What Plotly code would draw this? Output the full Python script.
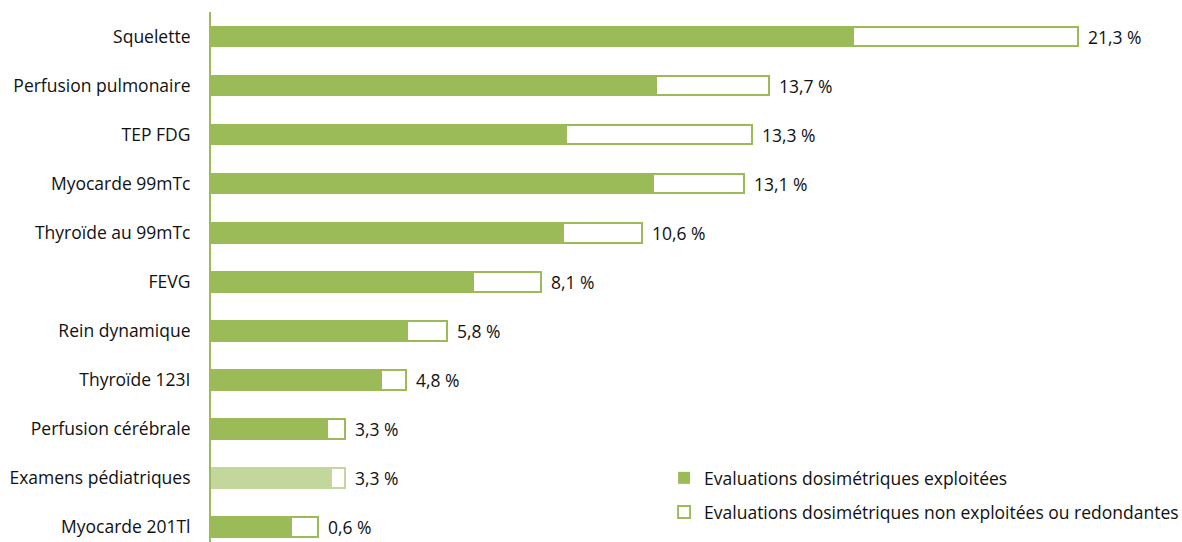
import plotly.graph_objects as go

# Examens (top to bottom as displayed)
examens = [
    "Squelette", "Perfusion pulmonaire", "TEP FDG", "Myocarde 99mTc",
    "Thyroïde au 99mTc", "FEVG", "Rein dynamique", "Thyroïde 123I",
    "Perfusion cérébrale", "Examens pédiatriques", "Myocarde 201Tl",
]
# Part des évaluations dosimétriques exploitées (%)
exploitees = [15.77, 10.93, 8.72, 10.86, 8.65, 6.43, 4.82, 4.18, 2.85, 2.95, 1.97]
# Part des évaluations non exploitées ou redondantes (%)
non_exploitees = [5.53, 2.77, 4.58, 2.24, 1.95, 1.67, 0.98, 0.62, 0.45, 0.35, 0.66]
# Libellés affichés en bout de barre
libelles = ["21,3 %", "13,7 %", "13,3 %", "13,1 %", "10,6 %", "8,1 %",
            "5,8 %", "4,8 %", "3,3 %", "3,3 %", "0,6 %"]

VERT = "#9BBB59"
VERT_CLAIR = "#C3D69B"
TEXTE = "#111111"
FONT = "Open Sans"
SIZE = 17.5

fill_colors = [VERT_CLAIR if e == "Examens pédiatriques" else VERT for e in examens]
line_colors = [VERT_CLAIR if e == "Examens pédiatriques" else VERT for e in examens]

fig = go.Figure()
fig.add_trace(go.Bar(
    y=examens, x=exploitees, orientation="h", width=0.44,
    name="Evaluations dosimétriques exploitées",
    marker=dict(color=fill_colors, line=dict(width=0)),
    legend="legend",
))
fig.add_trace(go.Bar(
    y=examens, x=non_exploitees, orientation="h", width=0.40,
    name="Evaluations dosimétriques non exploitées ou redondantes",
    marker=dict(color="white", line=dict(color=line_colors, width=2)),
    legend="legend2",
))

for e, a, b, t in zip(examens, exploitees, non_exploitees, libelles):
    fig.add_annotation(
        x=a + b, y=e, text=t, showarrow=False, xanchor="left", xshift=8,
        font=dict(family=FONT, size=SIZE, color=TEXTE),
    )

n = len(examens)
legend_style = dict(
    xanchor="left", yanchor="middle",
    font=dict(family=FONT, size=SIZE, color=TEXTE),
    bgcolor="rgba(0,0,0,0)", itemwidth=30,
)
fig.update_layout(
    width=1182, height=542,
    margin=dict(l=211, r=0, t=12, b=0, autoexpand=False),
    paper_bgcolor="white", plot_bgcolor="white",
    barmode="stack",
    font=dict(family=FONT, size=SIZE, color=TEXTE),
    xaxis=dict(range=[0, 23.86], visible=False, fixedrange=True),
    yaxis=dict(
        categoryorder="array", categoryarray=examens[::-1],
        range=[-0.306, n - 0.5],
        showline=True, linecolor=VERT, linewidth=2,
        showgrid=False, zeroline=False, ticks="", ticklabelstandoff=15,
        tickfont=dict(family=FONT, size=SIZE, color=TEXTE),
    ),
    legend=dict(x=0.4666, y=0.1208, **legend_style),
    legend2=dict(x=0.4666, y=0.0566, **legend_style),
    showlegend=True,
)

fig.write_html("out.html")
